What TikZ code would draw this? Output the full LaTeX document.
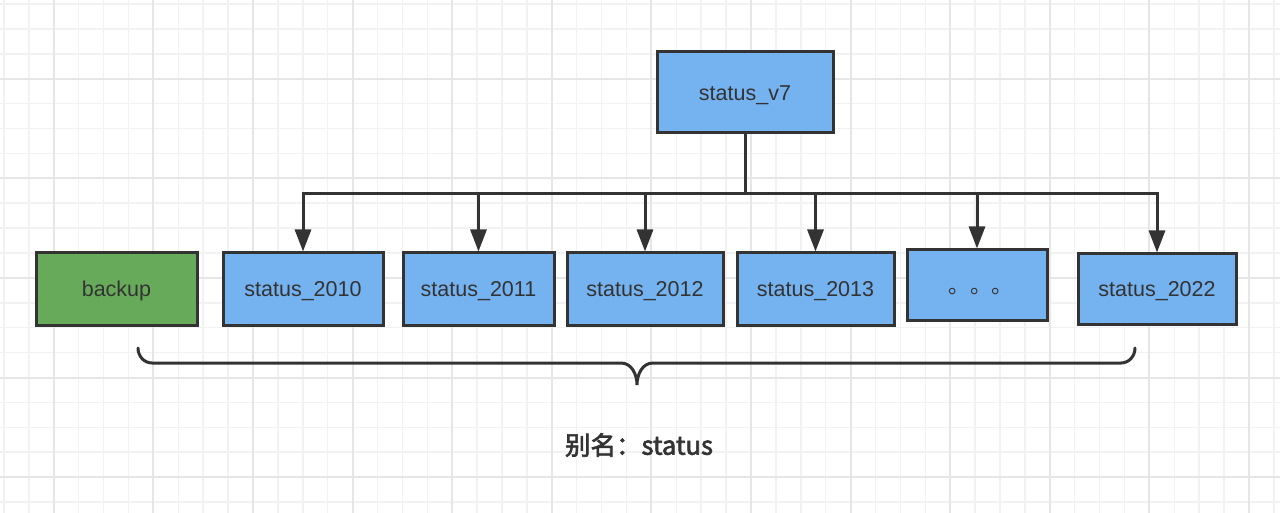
\documentclass[tikz,border=0pt]{standalone}
\usepackage{fontspec}
\setmainfont{Liberation Sans}
\newfontfamily\cjk{Noto Sans CJK SC}
\newfontfamily\cjkmedium[FakeBold=2.5]{Noto Sans CJK SC}
\usepackage{xcolor}
\usetikzlibrary{arrows.meta}
\definecolor{ink}{HTML}{333333}
\definecolor{boxblue}{HTML}{75B2F0}
\definecolor{boxgreen}{HTML}{67AB5A}
\definecolor{gridminor}{HTML}{F2F2F2}
\definecolor{gridmajor}{HTML}{E6E6E6}

\begin{document}
\begin{tikzpicture}[x=1pt, y=-1pt]
\tikzstyle{table}=[rectangle, draw=ink, line width=3pt, fill=boxblue, text=ink, inner sep=0pt, minimum height=72pt, text height=15.5pt, text depth=0pt, font=\fontsize{21.5}{26}\selectfont]
\tikzstyle{link}=[draw=ink, line width=3pt, -{Triangle[length=22pt, width=16pt]}]
\useasboundingbox (0,0) rectangle (1280,513);
\fill[white] (0,0) rectangle (1280,513);

% grid
\foreach \i in {0,...,51}
  \draw[gridminor, line width=1.5pt] ({4+24.9*\i},0) -- ++(0,513);
\foreach \i in {0,...,20}
  \draw[gridminor, line width=1.5pt] (0,{4+24.9*\i}) -- ++(1280,0);
\foreach \i in {0,...,12}
  \draw[gridmajor, line width=2pt] ({53.8+99.6*\i},0) -- ++(0,513);
\foreach \i in {0,...,4}
  \draw[gridmajor, line width=2pt] (0,{78.7+99.6*\i}) -- ++(1280,0);

\node[table, minimum width=176pt, minimum height=81pt] (v7) at (745,92.5) {status\_v7};
\node[table, fill=boxgreen, minimum width=161pt] (backup) at (116.5,289) {backup};
\node[table, minimum width=160pt] (s2010) at (303,289) {status\_2010};
\node[table, minimum width=151pt] (s2011) at (478.5,289) {status\_2011};
\node[table, minimum width=156pt] (s2012) at (645,289) {status\_2012};
\node[table, minimum width=157pt] (s2013) at (815.5,289) {status\_2013};
\node[table, minimum width=140pt, minimum height=70pt] (more) at (977,285) {\hspace*{8pt}\raisebox{-1pt}{\cjk 。。。}};
\node[table, minimum width=158pt, minimum height=70pt] (s2022) at (1157,289) {status\_2022};

\coordinate (bus) at (745,194);
\foreach \t in {s2010,s2011,s2012,s2013,more,s2022}
  \draw[link] (v7) -- (bus) -| (\t.north);

% brace under the tables
\draw[ink, line width=3pt, line cap=round]
  (138,348) to[out=-90,in=180] (152,363) -- (621,363) to[out=0,in=90] (637,385)
  to[out=90,in=180] (653,363) -- (1121,363) to[out=0,in=-90] (1135,348);

\node[text=ink, font=\cjkmedium\fontsize{25.5}{30}\selectfont] (alias) at (639,445) {别名：status};

\end{tikzpicture}
\end{document}
